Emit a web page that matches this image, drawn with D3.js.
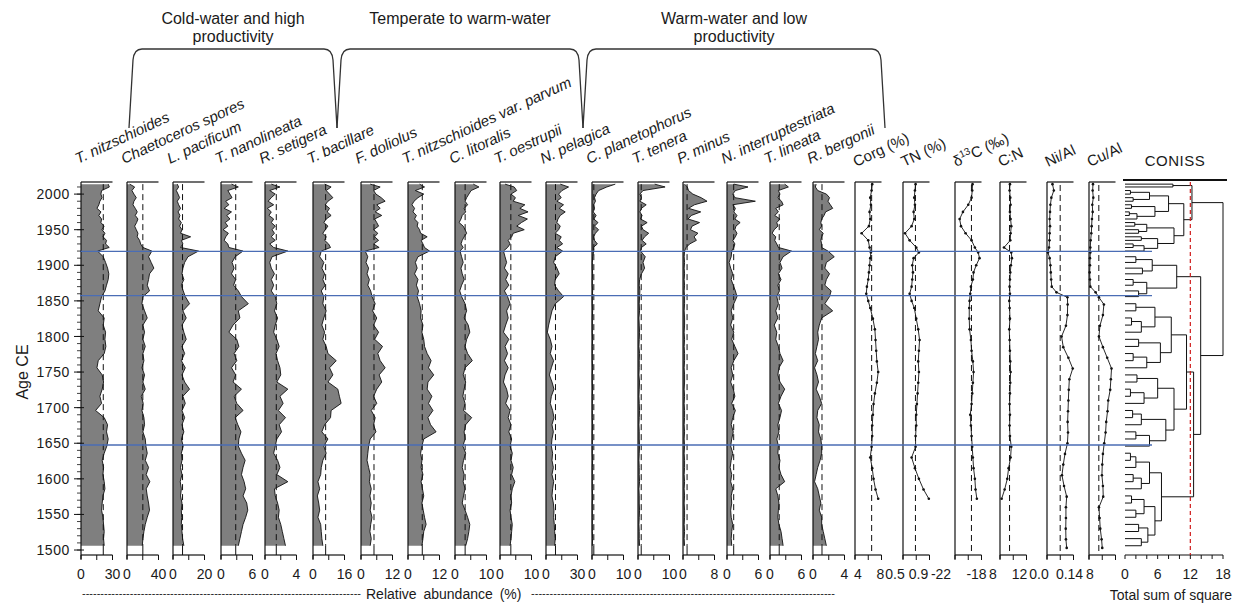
<!DOCTYPE html>
<meta charset="utf-8">
<html>
<head>
<style>
  body { margin: 0; background: #fff; }
  text { font-family: Arial, "Liberation Sans", sans-serif; fill: #1a1a1a; }
  text.sp { font-style: italic; font-size: 15px; }
  text.geo { font-size: 15px; }
  text.tl { font-size: 14px; }
  text.grp { font-size: 16px; }
</style>
<script src="https://d3js.org/d3.v7.min.js"></script>
</head>
<body>
<script>

// ---- sample ages (diatom counts) ----
var ages = [2014,2010,2005,2000,1995,1990,1985,1980,1975,1970,1965,1960,1955,1950,1945,1940,1935,1930,1925,1920,
  1912,1904,1896,1888,1880,1872,1864,1856,
  1846,1836,1826,1816,1806,1796,1786,1776,1766,1756,1746,1736,1726,1716,1706,1696,1686,1676,1666,1656,1646,1636,
  1626,1616,1606,1596,1586,1576,1566,1556,1546,1536,1526,1516,1506];

// relative abundance (%) per taxon, same order as ages
var tNitz = [25.9,27,19.6,19,20,18,17,15.2,19,17, 19.6,19,22,20,22.8,21,24.3,23.4,26.9,15.8,
  21.2,23.4,25.3,26.5,25.9,24.3,22.8,19.6,
  18,16.4,22.1,21.2,23.4,22.8,23.7,22.1,16.4,15.2, 20.2,21.5,20.2,18,19.6,13.9,22.1,25.3,24.3,25.9,
  24.6,22.1,20.2,21.5,20.9,22.1,22.8,20.9,20.2,19.6, 20.9,21.5,22.1,21.5,22.1];
var chaeto = [3.4,9.7,6.3,8.8,11.8,8.8,7.6,10.5,13,10.5, 13.9,12.2,9.7,11.8,13.9,13,16,17.3,20.2,31.6,
  27.4,30.7,34.1,28.6,27.4,25.7,28.6,20.2,
  19,22.3,25.7,20.2,22.3,20.2,23.2,20.2,21.5,19, 22.3,20.2,23.2,18.1,20.6,19,21.5,22.3,20.2,23.2,
  24,25.7,23.2,27.4,24.4,29,24.4,25.7,27.4,28.6, 25.7,23.2,21.5,20.2,19.4];
var lPac = [2.7,3.6,2.1,3.2,4.2,2.7,3.6,4.8,3.2,4.4, 3.6,5.3,4.2,5.7,4.8,11.2,5.3,6.3,4.8,16.2,
  9.5,7.4,6.3,5.7,6.9,5.3,6.5,7.8,
  10.5,6.3,8.4,5.7,6.9,8.4,5.7,7.4,5.3,7.8, 5.7,7.4,10.5,6.3,7.8,5.7,7.4,5.7,6.9,5.3,
  6.5,5.3,5.7,4.8,5.7,4.6,5.3,4.8,5.7,5.3, 5.5,5.3,5.7,6.1,6.9];
var tNano = [2.0,3.3,1.3,1.7,2.1,0.9,1.5,0.6,2.0,1.1, 1.7,0.8,1.3,0.4,1.4,0.9,0.6,1.3,1.5,4.2,
  2.7,2.1,2.5,2.0,2.8,2.4,3.3,3.9,
  5.2,3.3,3.6,2.3,1.5,3.0,3.4,2.5,3.0,2.0, 2.8,2.3,3.9,2.5,3.0,4.2,2.7,3.2,3.8,3.4,
  3.3,3.9,4.6,4.2,3.9,4.4,4.7,4.2,4.9,5.1, 4.7,4.2,3.9,3.6,3.3];
var rSet = [0.8,1.9,0.6,1.3,0.8,0.4,1.1,0.3,0.8,0.5, 1.1,0.8,1.3,0.9,1.2,0.8,1.3,0.6,1.1,2.9,
  0.9,0.6,0.8,1.2,0.8,1.1,0.8,1.3,
  1.5,1.2,1.6,1.3,1.1,1.5,1.8,1.4,1.6,1.9, 2.0,1.5,2.9,1.9,2.3,1.7,2.6,1.8,2.1,1.5,
  1.3,1.1,1.6,1.9,1.5,2.9,1.2,1.3,1.6,1.8, 1.7,2.0,2.2,2.4,2.6];
var tBac = [5.9,9.2,6.7,8.4,10.1,7.6,6.2,8.4,7.2,9.2, 6.7,5.5,7.6,6.2,5.0,6.7,5.9,7.9,8.9,4.2,
  3.4,5.5,4.5,5.9,5.0,6.2,4.2,5.5,
  5.0,6.7,5.5,4.5,5.9,5.0,6.7,7.6,11.8,8.4, 10.1,7.6,12.6,13.4,14.3,9.2,8.9,5.9,4.5,7.6,
  5.5,6.7,5.0,4.2,3.9,2.5,3.4,2.2,2.9,3.4, 2.5,3.9,4.2,4.5,5.0];
var fDol = [3.5,7.3,4.8,5.7,7.7,9.2,6.0,7.3,5.4,7.9, 5.2,6.0,6.7,4.8,6.4,5.2,6.7,4.8,6.9,1.6,
  2.6,1.9,2.9,2.3,3.2,2.6,3.7,4.2,
  5.4,4.4,6.0,4.8,6.7,5.2,8.2,6.4,7.3,9.2, 6.9,7.9,6.0,4.8,6.0,3.9,5.4,4.8,5.7,3.5,
  2.9,2.6,2.3,2.9,3.5,3.2,3.9,3.4,3.9,3.5, 4.2,3.7,3.4,3.9,3.5];
var tNitzP = [4.4,6.3,2.8,6.0,3.8,2.3,1.5,2.5,1.9,3.2, 2.5,3.8,3.5,4.4,4.8,7.3,5.0,5.7,6.3,8.2,
  3.8,2.8,3.5,2.5,3.8,3.2,4.0,3.5,
  4.4,5.0,4.8,5.7,5.3,6.0,6.3,7.3,8.8,7.8, 9.8,7.6,7.3,9.1,7.8,9.5,7.6,8.6,10.7,6.0,
  5.3,4.8,5.3,5.0,5.7,5.0,5.5,6.0,5.3,5.8, 6.3,6.9,6.0,5.7,5.3];
var cLit = [5.8,7.6,5.1,4.4,3.7,3.2,4.0,2.9,3.4,2.3, 1.9,1.3,2.6,3.2,3.7,2.9,2.3,1.9,2.6,1.6,
  2.1,2.6,1.9,2.3,2.9,2.1,1.5,2.1,
  3.2,3.7,2.9,4.2,4.7,3.7,3.2,4.0,5.5,3.2, 2.6,3.4,2.9,2.5,3.2,2.7,5.3,3.4,2.9,3.2,
  2.5,3.4,2.7,2.3,2.9,2.6,3.2,2.7,2.3,3.2, 4.0,4.7,4.4,4.0,3.4];
var tOest = [1.6,4.5,5.3,3.5,4.9,4.2,7.9,6.3,8.9,5.8, 8.7,6.8,5.3,7.7,4.2,3.7,2.6,3.2,2.4,1.1,
  1.6,2.1,1.4,2.6,1.8,2.8,1.4,2.4,
  3.2,2.1,2.6,1.8,1.1,2.8,1.6,2.4,1.4,2.6, 1.6,1.1,2.1,2.6,1.8,3.2,2.6,3.5,2.8,3.7,
  3.2,3.9,3.5,4.2,3.7,4.7,3.9,3.5,3.7,3.2, 3.5,3.9,3.7,3.5,3.2];
var nPel = [13.6,21.5,15.2,12.0,14.5,10.4,16.7,12.6,18.3,13.6, 11.4,10.4,13.6,12.0,8.8,14.5,12.6,15.8,10.4,15.8,
  8.8,7.3,10.4,12.6,8.8,8.2,12.0,16.7,
  8.8,5.7,4.1,2.5,1.3,4.1,5.7,4.1,7.3,5.1, 3.2,5.7,7.6,5.1,4.1,6.3,7.6,5.7,7.0,5.7,
  5.1,6.3,5.7,7.0,5.7,7.3,6.3,5.7,7.0,7.6, 7.3,7.9,8.2,8.8,8.2];
var cPlan = [7.4,4.7,2.1,1.3,0.8,1.1,0.5,0.8,0.4,1.3, 0.6,1.9,0.8,2.1,1.1,0.5,0.8,1.7,0.4,0.6,
  0.2,0.1,0.1,0.2,0.1,0.1,0.2,0.1,
  0.1,0.2,0.1,0.1,0.1,0.2,0.1,0.1,0.1,0.2, 0.1,0.1,0.2,0.1,0.1,0.1,0.1,0.2,0.1,0.1,
  0.1,0.1,0.2,0.1,0.1,0.1,0.1,0.2,0.1,0.1, 0.1,0.1,0.1,0.2,0.1];
var tTen = [5.3,8.6,1.6,0.6,1.1,0.6,2.6,1.1,0.6,1.3, 0.8,2.9,1.1,1.6,3.4,2.1,1.3,2.6,1.1,0.8,
  2.3,1.6,2.1,1.1,0.5,0.4,0.6,0.5,
  0.4,0.5,0.3,0.4,0.5,0.4,0.3,0.5,0.4,0.4, 0.3,0.5,0.4,0.3,0.4,0.5,0.4,0.3,0.4,0.4,
  0.5,0.4,0.3,0.4,0.4,0.5,0.3,0.4,0.4,0.5, 0.4,0.3,0.4,0.4,0.5];
var pMin = [0.4,1.1,1.4,2.5,4.6,6.1,2.9,1.4,4.5,2.1, 1.3,4.2,2.3,1.9,3.8,2.8,3.4,1.7,0.8,0.4,
  0.3,0.4,0.3,0.4,0.3,0.4,0.3,0.4,
  0.4,0.3,0.4,0.4,0.3,0.4,0.3,0.4,0.4,0.3, 0.4,0.4,0.3,0.4,0.3,0.4,0.4,0.3,0.4,0.3,
  0.4,0.3,0.4,0.4,0.3,0.4,0.3,0.4,0.3,0.4, 0.4,0.3,0.4,0.3,0.4];
var nInt = [1.3,4.0,1.6,1.1,1.5,5.4,1.1,1.6,1.3,1.9, 1.5,2.5,1.7,1.5,1.9,1.6,1.1,1.5,1.3,0.9,
  0.8,0.4,0.7,1.1,0.8,1.2,1.6,1.9,
  1.3,0.8,1.1,0.7,1.3,0.9,1.5,2.1,1.3,0.8, 1.1,0.7,1.2,1.5,0.9,1.6,1.1,0.8,1.2,0.9,
  0.7,1.1,0.8,0.6,0.9,0.7,1.1,0.8,0.9,0.7, 0.8,1.1,0.9,0.8,0.9];
var tLin = [2.8,3.5,1.6,1.9,1.5,2.2,2.5,1.1,1.6,0.9, 1.9,1.3,1.5,0.8,0.4,1.1,0.9,1.3,1.6,4.1,
  2.5,1.9,2.3,1.6,2.1,1.5,1.8,1.3,
  1.6,1.1,1.5,0.8,1.3,1.1,1.6,1.9,2.5,1.7, 1.5,1.9,2.8,2.1,1.6,2.2,1.9,1.5,1.7,1.3,
  1.6,1.5,1.9,1.7,2.1,2.8,1.1,1.5,1.7,1.6, 1.5,1.7,2.1,2.3,2.5];
var rBerg = [0.4,0.3,0.6,1.7,2.1,1.9,2.2,2.5,1.6,1.4, 1.1,1.0,1.1,0.8,1.3,1.1,1.0,1.1,1.1,1.9,
  2.7,1.7,1.5,2.1,1.7,1.5,2.3,2.1,
  1.5,2.5,1.1,0.8,0.6,0.7,0.5,0.3,0.6,0.2, 0.5,0.7,0.4,0.8,1.1,0.6,0.5,0.8,0.7,1.0,
  1.1,1.1,0.9,0.6,0.4,0.2,0.6,0.8,1.0,0.8, 1.1,1.1,1.3,1.5,1.7];

var taxa = ["T. nitzschioides","Chaetoceros spores","L. pacificum","T. nanolineata","R. setigera",
  "T. bacillare","F. doliolus","T. nitzschioides var. parvum","C. litoralis","T. oestrupii","N. pelagica",
  "C. planetophorus","T. tenera","P. minus","N. interruptestriata","T. lineata","R. bergonii"];
var taxaMax = [30,40,20,6,4,16,12,12,10,10,30,10,10,8,6,6,4];

// ---- geochemistry ----
var geoAges = [2014,2005,1995,1985,1975,1965,1955,1945,1935,1925,
  1918,1910,1900,1890,1880,1870,1860,1850,1840,
  1825,1810,1795,1780,1765,1750,1735,1720,1705,1690,
  1675,1660,1645,1630,1615,1600,1585,1572];
var corg = [6.6,6.5,6.3,6.4,6.2,6.3,6.1,5.0,6.0,6.2, 6.4,6.3,6.2,6.1,6.0,5.8,5.7,6.0,6.3,
  6.7,7.0,7.1,7.2,7.3,7.5,7.3,7.0,6.8,6.7, 6.6,6.6,6.5,6.3,6.6,6.8,7.1,7.5];
var tn = [0.69,0.68,0.67,0.68,0.66,0.67,0.63,0.53,0.60,0.70, 0.74,0.66,0.64,0.65,0.64,0.63,0.60,0.63,0.67,
  0.70,0.73,0.75,0.74,0.73,0.74,0.73,0.72,0.71,0.70, 0.70,0.69,0.69,0.63,0.68,0.74,0.81,0.89];
var d13c = [-19.35,-19.4,-19.5,-20.0,-20.8,-21.3,-21.1,-20.4,-19.5,-19.0, -18.5,-18.3,-18.8,-19.2,-19.3,-19.6,-19.7,-19.8,-19.85,
  -19.85,-19.8,-19.6,-19.5,-19.3,-19.2,-19.3,-19.4,-19.5,-19.7, -19.6,-19.5,-19.4,-19.3,-19.2,-19.0,-18.9,-18.7];
var cn = [9.5,9.45,9.55,9.6,9.5,9.6,9.7,9.6,9.55,8.6, 9.7,9.8,9.65,9.55,9.5,9.45,9.5,9.4,9.45,
  9.5,9.4,9.45,9.5,9.55,9.6,9.55,9.5,9.45,9.5, 9.45,9.5,9.7,9.6,9.3,9.1,8.7,8.25];

var metalAges = [2014,2005,1995,1985,1975,1965,1955,1945,1935,1925,
  1918,1910,1900,1890,1880,1870,1862,1855,1845,1830,
  1815,1800,1785,1770,1755,1740,1725,1710,1695,1680,
  1665,1650,1635,1620,1605,1590,1575,1560,1545,1530, 1515,1503];
var niAl = [0.029,0.036,0.023,0.018,0.016,0.014,0.016,0.014,0.013,0.011,
  0.005,0.014,0.018,0.020,0.022,0.025,0.050,0.108,0.109,0.108,
  0.100,0.077,0.086,0.113,0.136,0.118,0.115,0.113,0.111,0.109,
  0.111,0.108,0.095,0.086,0.079,0.090,0.104,0.100,0.100,0.099, 0.100,0.104];
var cuAl = [9.2,9.1,9.3,9.0,9.1,8.9,8.8,8.7,8.5,8.4,
  8.4,8.3,8.3,8.2,8.3,8.4,10.0,11.0,12.5,12.2,
  11.3,11.0,12.2,13.5,14.8,14.6,14.4,13.8,13.6,13.2,
  13.0,12.6,12.2,12.0,11.9,12.2,12.3,11.0,11.2,11.4, 11.8,12.0];

var geoNames = ["Corg (%)","TN (%)","δ13C (‰)","C:N","Ni/Al","Cu/Al"];
var geoDomains = [[4,8],[0.5,0.9],[-22,-18],[8,12],[0,0.14],[8,16]];
var geoTickLabels = [["4","8"],["0.5","0.9"],["-22","-18"],["8","12"],["0.0","0.14"],["8",""]];

// zone boundaries (Age CE) and CONISS cut-off
var zoneAges = [1919.5, 1857.5, 1647.5];
var cutOff = 12;
var conissTicks = [0, 6, 12, 18];

// CONISS tree: [total sum of squares, child, child]; leaves are sample ages
var zoneI = [12.3,
  [8.8, 2014, 2010],
  [10.8,
    [8.0, [4.5, [1.0, 2005, 2000], [1.5, 1995, 1990]], [5.5, [1.2, 1985, 1980], [2.2, [0.8, 1975, 1970], 1965]]],
    [9.0, [4.0, [1.8, 1960, 1955], [2.5, 1950, 1945]], [6.0, [3.0, 1940, 1935], [3.5, [1.5, 1930, 1925], 1920]]]]];
var zoneII = [9.5, [5.0, [2.0, 1912, 1904], [3.2, 1896, 1888]], [4.0, [1.5, 1880, 1872], [2.5, 1864, 1856]]];
var zoneIII = [11.3,
  [8.5,
    [5.5, [2.0, 1846, 1836], [3.0, [1.2, 1826, 1816], 1806]],
    [6.5, [2.5, 1796, 1786], [4.0, [1.5, 1776, 1766], 1756]]],
  [9.0,
    [6.0, [2.2, 1746, 1736], [3.5, [1.0, 1726, 1716], 1706]],
    [7.5, [3.0, [1.4, 1696, 1686], 1676], [4.5, [2.0, 1666, 1656], 1646]]]];
var zoneIV = [6.7,
  [4.5, [2.0, [1.0, 1636, 1626], 1616], [3.0, [1.5, 1606, 1596], 1586]],
  [5.5, [3.5, [1.2, 1576, 1566], [2.0, 1556, 1546]], [4.2, [2.5, 1536, 1526], [3.0, 1516, 1506]]]];
var coniss = [18.0, zoneI, [13.9, zoneII, [12.6, zoneIII, zoneIV]]];

// groups over the diatom panels
var groups = [
  {lines: ["Cold-water and high", "productivity"], from: 129, to: 337},
  {lines: ["Temperate to warm-water"], from: 337, to: 583},
  {lines: ["Warm-water and low", "productivity"], from: 583, to: 885}
];

// ---- layout ----
var width = 1240, height = 608;
var plotTop = 182, plotBottom = 555;
var taxaLeft = [81,127,173,221,265,313,361,408,455,500,546,592,638,683,727,770,813];
var taxaW = 31.5;
var geoLeft = [855,903,955,1000,1047,1089];
var geoW = 26.5;
// horizontal nudges of the geochemistry tick labels, as printed in the original
var geoLabelDx = [[3,-1],[-8,-11],[-14,-5],[-7,-7],[-8,-4],[1,0]];

var svg = d3.select("body").append("svg")
  .attr("width", width)
  .attr("height", height);

var y = d3.scaleLinear().domain([1493, 2017]).range([plotBottom, plotTop]);

function frame(g, x0, x1, ticks) {
  g.append("line").attr("x1", x0).attr("x2", x1).attr("y1", plotTop).attr("y2", plotTop)
    .attr("stroke", "#111").attr("stroke-width", 1.2);
  g.append("line").attr("x1", x0).attr("x2", x0).attr("y1", plotTop).attr("y2", plotBottom + 4)
    .attr("stroke", "#111").attr("stroke-width", 1.2);
  g.append("line").attr("x1", x0).attr("x2", x1).attr("y1", plotBottom).attr("y2", plotBottom)
    .attr("stroke", "#111").attr("stroke-width", 1.2);
  g.selectAll(".bt").data(ticks).enter().append("line")
    .attr("x1", function(d) { return d; }).attr("x2", function(d) { return d; })
    .attr("y1", plotBottom).attr("y2", plotBottom + 5)
    .attr("stroke", "#111").attr("stroke-width", 1);
}

// ---- diatom panels ----
var series = [tNitz, chaeto, lPac, tNano, rSet, tBac, fDol, tNitzP, cLit, tOest, nPel, cPlan, tTen, pMin, nInt, tLin, rBerg];

taxa.forEach(function(name, i) {
  var vals = series[i];
  var left = taxaLeft[i];
  var x = d3.scaleLinear().domain([0, taxaMax[i]]).range([left, left + taxaW]);
  var pts = d3.zip(ages, vals);
  var g = svg.append("g").attr("class", "panel");

  g.append("path").datum(pts)
    .attr("fill", "#7f7f7f")
    .attr("d", d3.area().y(function(d) { return y(d[0]); }).x0(x(0)).x1(function(d) { return x(d[1]); }));
  g.append("path").datum(pts)
    .attr("fill", "none").attr("stroke", "#111").attr("stroke-width", 0.9)
    .attr("d", d3.line().y(function(d) { return y(d[0]); }).x(function(d) { return x(d[1]); }));

  var m = x(d3.mean(vals));
  g.append("line").attr("x1", m).attr("x2", m)
    .attr("y1", y(ages[0])).attr("y2", y(ages[ages.length - 1]))
    .attr("stroke", "#111").attr("stroke-width", 1).attr("stroke-dasharray", "6,4");
  g.append("line").attr("x1", m).attr("x2", m)
    .attr("y1", y(ages[ages.length - 1])).attr("y2", plotBottom)
    .attr("stroke", "#111").attr("stroke-width", 1);

  frame(g, left, left + taxaW, [x(0), x(taxaMax[i] / 2), x(taxaMax[i])]);

  g.append("text").attr("class", "tl").attr("x", x(0)).attr("y", 579)
    .attr("text-anchor", "middle").text("0");
  g.append("text").attr("class", "tl").attr("x", x(taxaMax[i])).attr("y", 579)
    .attr("text-anchor", "middle").text(taxaMax[i]);

  g.append("text").attr("class", "sp")
    .attr("transform", "translate(" + (left - 3) + ",164)rotate(-25)")
    .text(name);
});

// ---- geochemistry panels ----
var geoSeries = [[geoAges, corg], [geoAges, tn], [geoAges, d13c], [geoAges, cn], [metalAges, niAl], [metalAges, cuAl]];

geoNames.forEach(function(name, i) {
  var left = geoLeft[i];
  var x = d3.scaleLinear().domain(geoDomains[i]).range([left, left + geoW]);
  var pts = d3.zip(geoSeries[i][0], geoSeries[i][1]);
  var g = svg.append("g").attr("class", "geo-panel");

  var m = x(d3.mean(geoSeries[i][1]));
  g.append("line").attr("x1", m).attr("x2", m)
    .attr("y1", plotTop + 3).attr("y2", plotBottom)
    .attr("stroke", "#111").attr("stroke-width", 1).attr("stroke-dasharray", "6,4");

  g.append("path").datum(pts)
    .attr("fill", "none").attr("stroke", "#111").attr("stroke-width", 0.9)
    .attr("d", d3.line().y(function(d) { return y(d[0]); }).x(function(d) { return x(d[1]); }));
  g.selectAll("circle").data(pts).enter().append("circle")
    .attr("cx", function(d) { return x(d[1]); })
    .attr("cy", function(d) { return y(d[0]); })
    .attr("r", 1.3).attr("fill", "#111");

  var d0 = geoDomains[i][0], d1 = geoDomains[i][1];
  frame(g, left, left + geoW, [x(d0), x((d0 + d1) / 2), x(d1)]);

  g.append("text").attr("class", "tl").attr("x", x(d0) + geoLabelDx[i][0]).attr("y", 579)
    .attr("text-anchor", "middle").text(geoTickLabels[i][0]);
  g.append("text").attr("class", "tl").attr("x", x(d1) + geoLabelDx[i][1]).attr("y", 579)
    .attr("text-anchor", "middle").text(geoTickLabels[i][1]);

  var t = g.append("text").attr("class", "geo")
    .attr("transform", "translate(" + (left + 1) + ",167)rotate(-25)");
  if (name.indexOf("δ13C") === 0) {
    t.append("tspan").text("δ");
    t.append("tspan").attr("font-size", "10px").attr("dy", -6).text("13");
    t.append("tspan").attr("dy", 6).text("C (‰)");
  } else {
    t.text(name);
  }
});

// ---- CONISS ----
var xc = d3.scaleLinear().domain([0, 18]).range([1125, 1223]);
var segs = [];
function walk(n) {
  if (typeof n === "number") return { y: y(n), h: 0 };
  var a = walk(n[1]), b = walk(n[2]);
  segs.push([xc(a.h), a.y, xc(n[0]), a.y]);
  segs.push([xc(b.h), b.y, xc(n[0]), b.y]);
  segs.push([xc(n[0]), a.y, xc(n[0]), b.y]);
  return { y: (a.y + b.y) / 2, h: n[0] };
}
walk(coniss);

var cg = svg.append("g").attr("class", "coniss");
cg.selectAll("line.seg").data(segs).enter().append("line")
  .attr("class", "seg")
  .attr("x1", function(d) { return d[0]; }).attr("y1", function(d) { return d[1]; })
  .attr("x2", function(d) { return d[2]; }).attr("y2", function(d) { return d[3]; })
  .attr("stroke", "#111").attr("stroke-width", 1);

cg.append("line").attr("x1", xc(0) - 2).attr("x2", xc(18) + 4)
  .attr("y1", plotTop - 2).attr("y2", plotTop - 2)
  .attr("stroke", "#111").attr("stroke-width", 2);
cg.append("line").attr("x1", xc(0)).attr("x2", xc(18))
  .attr("y1", plotBottom).attr("y2", plotBottom)
  .attr("stroke", "#111").attr("stroke-width", 1.2);
cg.selectAll("line.ct").data(d3.range(0, 19, 2)).enter().append("line")
  .attr("class", "ct")
  .attr("x1", function(d) { return xc(d); }).attr("x2", function(d) { return xc(d); })
  .attr("y1", plotBottom).attr("y2", plotBottom + 4)
  .attr("stroke", "#111").attr("stroke-width", 1);
cg.selectAll("text.cl").data(conissTicks).enter().append("text")
  .attr("class", "tl cl")
  .attr("x", function(d) { return xc(d); }).attr("y", 579)
  .attr("text-anchor", "middle")
  .text(function(d) { return d; });
cg.append("line").attr("x1", xc(cutOff)).attr("x2", xc(cutOff))
  .attr("y1", plotTop).attr("y2", plotBottom)
  .attr("stroke", "#d01c1c").attr("stroke-width", 1.2).attr("stroke-dasharray", "4,3");
cg.append("text").attr("class", "geo").attr("x", 1175).attr("y", 166)
  .attr("text-anchor", "middle").attr("letter-spacing", "0.5px").text("CONISS");

// ---- zone lines ----
svg.selectAll("line.zone").data(zoneAges).enter().append("line")
  .attr("class", "zone")
  .attr("x1", 80).attr("x2", 1152)
  .attr("y1", function(d) { return y(d); }).attr("y2", function(d) { return y(d); })
  .attr("stroke", "#4a6db5").attr("stroke-width", 1.3);

// ---- age axis ----
var ax = svg.append("g").attr("class", "age-axis");
ax.selectAll("line.minor").data(d3.range(1500, 2011, 10)).enter().append("line")
  .attr("class", "minor")
  .attr("x1", 77).attr("x2", 81)
  .attr("y1", function(d) { return y(d); }).attr("y2", function(d) { return y(d); })
  .attr("stroke", "#111").attr("stroke-width", 0.8);
ax.selectAll("line.major").data(d3.range(1500, 2001, 50)).enter().append("line")
  .attr("class", "major")
  .attr("x1", 74).attr("x2", 84)
  .attr("y1", function(d) { return y(d); }).attr("y2", function(d) { return y(d); })
  .attr("stroke", "#111").attr("stroke-width", 1);
ax.selectAll("text").data(d3.range(1500, 2001, 50)).enter().append("text")
  .attr("class", "tl")
  .attr("x", 70).attr("y", function(d) { return y(d); })
  .attr("dy", "0.36em").attr("text-anchor", "end")
  .attr("letter-spacing", "0.6px")
  .text(function(d) { return d; });
ax.append("text").attr("class", "grp")
  .attr("transform", "translate(28,372)rotate(-90)")
  .attr("text-anchor", "middle").text("Age CE");

// ---- group headers ----
groups.forEach(function(gr) {
  var cx = (gr.from + gr.to) / 2;
  gr.lines.forEach(function(l, j) {
    svg.append("text").attr("class", "grp").attr("x", cx).attr("y", 24 + j * 18)
      .attr("text-anchor", "middle").text(l);
  });
  var p = d3.path();
  p.moveTo(gr.from, 128);
  p.lineTo(gr.from + 4, 60);
  p.quadraticCurveTo(gr.from + 5, 49, gr.from + 13, 49);
  p.lineTo(gr.to - 13, 49);
  p.quadraticCurveTo(gr.to - 5, 49, gr.to - 4, 60);
  p.lineTo(gr.to, 128);
  svg.append("path").attr("d", p.toString())
    .attr("fill", "none").attr("stroke", "#333").attr("stroke-width", 1.3);
});

// ---- bottom captions ----
svg.append("text").attr("x", 82).attr("y", 597).attr("font-size", "11px")
  .attr("textLength", 279).attr("lengthAdjust", "spacing").text("-".repeat(76));
svg.append("text").attr("class", "tl").attr("x", 366).attr("y", 599)
  .attr("word-spacing", "3px").text("Relative abundance (%)");
svg.append("text").attr("x", 531).attr("y", 597).attr("font-size", "11px")
  .attr("textLength", 304).attr("lengthAdjust", "spacing").text("-".repeat(82));
svg.append("text").attr("class", "tl").attr("x", 1232).attr("y", 600)
  .attr("text-anchor", "end").text("Total sum of square");

</script>
</body>
</html>
